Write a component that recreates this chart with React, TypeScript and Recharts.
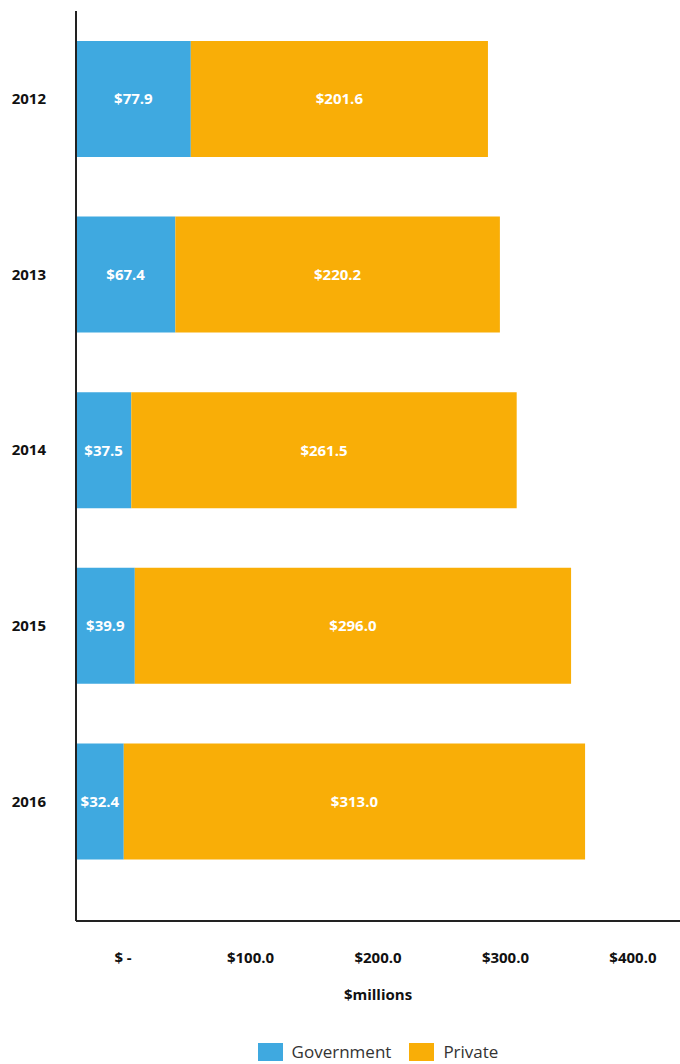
import React from "react";
import { BarChart, Bar, XAxis, YAxis, Legend, LabelList } from "recharts";

const years = ["2012", "2013", "2014", "2015", "2016"];
const government = [77.9, 67.4, 37.5, 39.9, 32.4];
const privateFunding = [201.6, 220.2, 261.5, 296.0, 313.0];
const tickValues = [0, 100, 200, 300, 400];

const data = years.map((year, i) => ({
  year,
  Government: government[i],
  Private: privateFunding[i],
}));

const FONT = "'Open Sans', sans-serif";
const BLUE = "#3FA9E0";
const ORANGE = "#F9AE07";

const money = (v: any) => `$${Number(v).toFixed(1)}`;
const tickMoney = (v: number) => (v === 0 ? "$ -" : `$${v.toFixed(1)}`);

const renderLegend = (props: any) => {
  const items = props.payload || [];
  return (
    <div style={{ display: "flex", justifyContent: "center", alignItems: "center", paddingLeft: 76, fontFamily: FONT, fontSize: 17, color: "#333" }}>
      {items.map((item: any) => (
        <div key={item.value} style={{ display: "flex", alignItems: "center", margin: "0 9px" }}>
          <span style={{ width: 25, height: 18, background: item.color, display: "inline-block", marginRight: 9 }} />
          <span>{item.value}</span>
        </div>
      ))}
    </div>
  );
};

export default function App() {
  return (
    <div style={{ position: "absolute", left: 0, top: 0 }}>
      <BarChart
        width={680}
        height={1064}
        data={data}
        layout="vertical"
        margin={{ top: 11, right: 0, bottom: 0, left: 0 }}
      >
        <XAxis xAxisId="bars" type="number" domain={[0, 409.8]} allowDataOverflow hide height={0} />
        <XAxis
          xAxisId="labels"
          type="number"
          domain={[-36.9, 436.9]}
          allowDataOverflow
          ticks={tickValues}
          tickFormatter={tickMoney}
          height={119}
          tickLine={false}
          tickSize={0}
          tickMargin={31}
          axisLine={{ stroke: "#222", strokeWidth: 2 }}
          tick={{ fill: "#111", fontFamily: FONT, fontSize: 15, fontWeight: 700 }}
          label={{ value: "$millions", position: "insideBottom", offset: 40, fill: "#111", fontFamily: FONT, fontSize: 15, fontWeight: 700 }}
        />
        <YAxis
          type="category"
          dataKey="year"
          width={76}
          padding={{ top: 0, bottom: 32 }}
          tickLine={false}
          tickSize={0}
          tickMargin={30}
          axisLine={{ stroke: "#222", strokeWidth: 2 }}
          tick={{ fill: "#111", fontFamily: FONT, fontSize: 15, fontWeight: 700 }}
        />
        <Legend verticalAlign="bottom" height={24} content={renderLegend} />
        <Bar xAxisId="bars" dataKey="Government" stackId="a" fill={BLUE} barSize={116} isAnimationActive={false}>
          <LabelList dataKey="Government" position="center" formatter={money} fill="#fff" fontFamily={FONT} fontSize={15} fontWeight={700} />
        </Bar>
        <Bar xAxisId="bars" dataKey="Private" stackId="a" fill={ORANGE} barSize={116} isAnimationActive={false}>
          <LabelList dataKey="Private" position="center" formatter={money} fill="#fff" fontFamily={FONT} fontSize={15} fontWeight={700} />
        </Bar>
      </BarChart>
    </div>
  );
}
